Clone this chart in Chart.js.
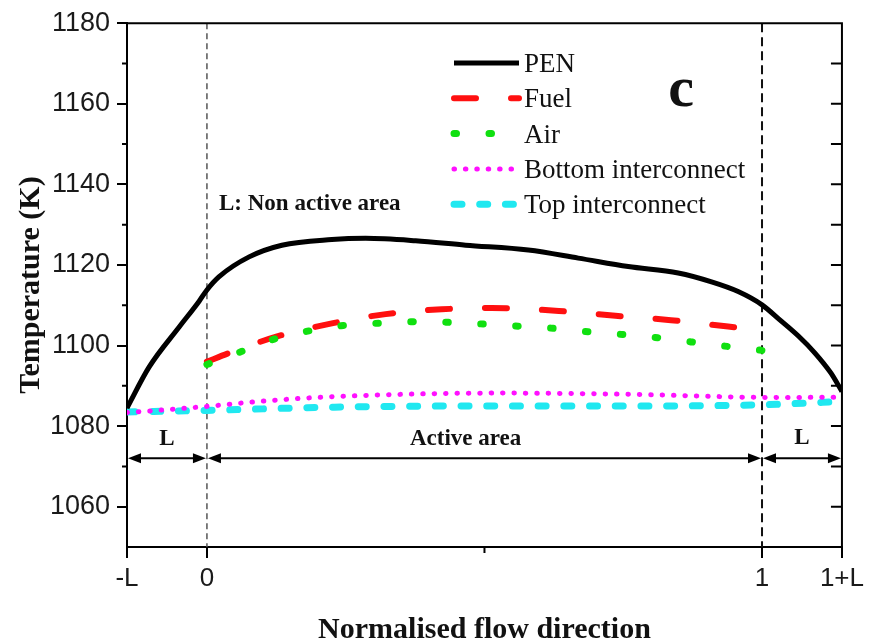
<!DOCTYPE html>
<html>
<head>
<meta charset="utf-8">
<script src="https://cdn.jsdelivr.net/npm/chart.js@4.4.1/dist/chart.umd.min.js"></script>
<style>
  html, body { margin: 0; padding: 0; background: #fff; }
  #wrap { width: 869px; height: 642px; }
</style>
</head>
<body>
<div id="wrap"><canvas id="chart" width="869" height="642"></canvas></div>
<script>
// Non active length on the normalised axis
const L = 0.144;

// tick labels
const xTickValues = [-L, 0, 1, 1 + L];
const xTickLabels = ['-L', '0', '1', '1+L'];
const xMinorTicks = [0.5];
const yTickValues = [1060, 1080, 1100, 1120, 1140, 1160, 1180];
const yMinorTicks = [1070, 1090, 1110, 1130, 1150, 1170];
const rightTicks = [1060, 1070, 1080, 1090, 1100, 1110, 1120, 1130, 1140, 1150, 1160, 1170];

// PEN
const penX = [-0.144, -0.104, -0.05, -0.014, 0, 0.022, 0.076, 0.135, 0.225, 0.286, 0.376, 0.466, 0.579, 0.669, 0.759, 0.849, 0.909, 0.957, 1.0, 1.031, 1.066, 1.095, 1.124, 1.144];
const penT = [1084.5, 1094.7, 1104.6, 1111.0, 1113.8, 1117.1, 1122.0, 1124.9, 1126.3, 1126.6, 1126.0, 1124.9, 1123.7, 1121.7, 1119.6, 1118.0, 1115.8, 1113.4, 1110.1, 1106.5, 1102.3, 1098.2, 1093.2, 1088.6];

// Fuel
const fuelX = [0, 0.041, 0.125, 0.225, 0.322, 0.423, 0.513, 0.634, 0.736, 0.836, 0.939, 1.0];
const fuelT = [1096.0, 1098.2, 1102.2, 1105.5, 1107.8, 1109.0, 1109.3, 1108.6, 1107.4, 1106.3, 1104.7, 1103.8];

// Air
const airX = [0, 0.062, 0.121, 0.179, 0.241, 0.304, 0.364, 0.427, 0.49, 0.549, 0.612, 0.673, 0.733, 0.795, 0.855, 0.918, 0.981, 1.0];
const airT = [1095.3, 1098.5, 1101.6, 1103.5, 1104.9, 1105.5, 1105.9, 1105.8, 1105.4, 1104.9, 1104.4, 1103.6, 1102.9, 1102.2, 1101.2, 1100.1, 1099.1, 1098.8];

// Bottom interconnect
const botX = [-0.144, -0.12, 0, 0.1, 0.226, 0.525, 0.76, 1.03, 1.144];
const botT = [1083.4, 1083.6, 1084.9, 1086.2, 1087.3, 1088.2, 1087.9, 1087.1, 1087.2];

// Top interconnect
const topX = [-0.144, 0, 0.226, 0.525, 0.81, 1.0, 1.144];
const topT = [1083.5, 1083.9, 1084.7, 1085.0, 1085.0, 1085.3, 1086.1];

// arrows of the zones
const arrowT = 1072;
const arrowSpans = [[-L, 0], [0, 1], [1, 1 + L]];

const SERIF = "'Liberation Serif', 'Times New Roman', serif";
const SANS = "'Liberation Sans', Arial, sans-serif";

function pts(xs, ys) {
    return xs.map((x, i) => ({ x: x, y: ys[i] }));
}

function arrowHead(ctx, x, y, dir) {
    ctx.beginPath();
    ctx.moveTo(x, y);
    ctx.lineTo(x - dir * 13, y - 5);
    ctx.lineTo(x - dir * 13, y + 5);
    ctx.closePath();
    ctx.fill();
}

// annotations, frame and legend
const decoPlugin = {
    id: 'deco',
    beforeDatasetsDraw(chart) {
        const ctx = chart.ctx;
        const a = chart.chartArea;
        const xs = chart.scales.x;
        ctx.save();
        // zone borders
        let px = xs.getPixelForValue(0);
        ctx.strokeStyle = '#555';
        ctx.lineWidth = 1.5;
        ctx.setLineDash([6, 4]);
        ctx.beginPath();
        ctx.moveTo(px, a.top);
        ctx.lineTo(px, a.bottom);
        ctx.stroke();
        px = xs.getPixelForValue(1);
        ctx.strokeStyle = '#111';
        ctx.lineWidth = 2;
        ctx.setLineDash([9, 5]);
        ctx.beginPath();
        ctx.moveTo(px, a.top);
        ctx.lineTo(px, a.bottom);
        ctx.stroke();
        ctx.restore();
    },
    afterDraw(chart) {
        const ctx = chart.ctx;
        const a = chart.chartArea;
        const xs = chart.scales.x;
        const ys = chart.scales.y;
        ctx.save();

        // frame
        ctx.strokeStyle = '#000';
        ctx.lineWidth = 2;
        ctx.setLineDash([]);
        ctx.beginPath();
        ctx.moveTo(a.left, a.top);
        ctx.lineTo(a.right, a.top);
        ctx.lineTo(a.right, a.bottom);
        ctx.stroke();

        // minor ticks
        ctx.beginPath();
        yMinorTicks.forEach(v => {
            const y = ys.getPixelForValue(v);
            ctx.moveTo(a.left - 5, y);
            ctx.lineTo(a.left, y);
        });
        xMinorTicks.forEach(v => {
            const x = xs.getPixelForValue(v);
            ctx.moveTo(x, a.bottom);
            ctx.lineTo(x, a.bottom + 6);
        });
        rightTicks.forEach(v => {
            const y = ys.getPixelForValue(v);
            ctx.moveTo(a.right, y);
            ctx.lineTo(a.right - 11, y);
        });
        ctx.stroke();

        // double arrows
        const ay = ys.getPixelForValue(arrowT);
        ctx.fillStyle = '#000';
        ctx.lineWidth = 2;
        arrowSpans.forEach(s => {
            const x1 = xs.getPixelForValue(s[0]) + 1;
            const x2 = xs.getPixelForValue(s[1]) - 1;
            ctx.beginPath();
            ctx.moveTo(x1 + 6, ay);
            ctx.lineTo(x2 - 6, ay);
            ctx.stroke();
            arrowHead(ctx, x1, ay, -1);
            arrowHead(ctx, x2, ay, 1);
        });

        // texts
        ctx.fillStyle = '#111';
        ctx.textBaseline = 'alphabetic';
        ctx.font = 'bold 23px ' + SERIF;
        ctx.textAlign = 'center';
        ctx.fillText('L', xs.getPixelForValue(-L / 2), 445);
        ctx.fillText('L', xs.getPixelForValue(1 + L / 2), 444);
        ctx.fillText('Active area', xs.getPixelForValue(0.466), 445);
        ctx.textAlign = 'left';
        ctx.fillText('L: Non active area', 219, 210);

        ctx.font = 'bold 58px ' + SERIF;
        ctx.textAlign = 'center';
        ctx.fillText('c', 681, 106);

        // axis titles
        ctx.font = 'bold 30px ' + SERIF;
        ctx.fillText('Normalised flow direction', (a.left + a.right) / 2, 638);
        ctx.save();
        ctx.translate(39, (a.top + a.bottom) / 2);
        ctx.rotate(-Math.PI / 2);
        ctx.textBaseline = 'alphabetic';
        ctx.fillText('Temperature (K)', 0, 0);
        ctx.restore();

        // legend
        ctx.font = '27px ' + SERIF;
        ctx.textAlign = 'left';
        ctx.textBaseline = 'middle';
        chart.data.datasets.forEach((ds, i) => {
            const y = 63 + i * 35.3;
            ctx.save();
            ctx.strokeStyle = ds.borderColor;
            ctx.lineWidth = ds.borderWidth;
            ctx.lineCap = ds.borderCapStyle || 'butt';
            ctx.setLineDash(ds.borderDash || []);
            ctx.beginPath();
            ctx.moveTo(454, y);
            ctx.lineTo(519, y);
            ctx.stroke();
            ctx.restore();
            ctx.fillStyle = '#111';
            ctx.fillText(ds.label, 524, y + 2);
        });

        ctx.restore();
    }
};

function line(label, xs, ys, color, width, dash, cap, order) {
    return {
        label: label,
        data: pts(xs, ys),
        borderColor: color,
        borderWidth: width,
        borderDash: dash,
        borderCapStyle: cap,
        pointRadius: 0,
        fill: false,
        cubicInterpolationMode: 'monotone',
        order: order
    };
}

new Chart(document.getElementById('chart'), {
    type: 'line',
    data: {
        datasets: [
            line('PEN', penX, penT, '#000000', 5, [], 'butt', 1),
            line('Fuel', fuelX, fuelT, '#ff1010', 6, [22, 35], 'round', 3),
            line('Air', airX, airT, '#10e010', 7, [2.5, 32.5], 'round', 2),
            line('Bottom interconnect', botX, botT, '#ff10ff', 5, [0.5, 10.9], 'round', 4),
            line('Top interconnect', topX, topT, '#20e8f0', 7, [8, 17.7], 'round', 5)
        ]
    },
    options: {
        responsive: false,
        animation: false,
        events: [],
        layout: { padding: { top: 22, right: 24, left: 0, bottom: 0 } },
        plugins: {
            legend: { display: false },
            tooltip: { enabled: false }
        },
        scales: {
            x: {
                type: 'linear',
                min: -L,
                max: 1 + L,
                afterBuildTicks: (scale) => {
                    scale.ticks = xTickValues.map(v => ({ value: v }));
                },
                afterFit: (scale) => { scale.height = 95; },
                ticks: {
                    autoSkip: false,
                    maxRotation: 0,
                    padding: 5,
                    color: '#1a1a1a',
                    font: { family: SANS, size: 26 },
                    callback: (v) => {
                        const i = xTickValues.findIndex(t => Math.abs(t - v) < 1e-6);
                        return i >= 0 ? xTickLabels[i] : '';
                    }
                },
                grid: {
                    display: true,
                    drawOnChartArea: false,
                    drawTicks: true,
                    tickLength: 11,
                    lineWidth: 2,
                    color: '#000'
                },
                border: { display: true, color: '#000', width: 2 }
            },
            y: {
                type: 'linear',
                min: 1050,
                max: 1180,
                afterBuildTicks: (scale) => {
                    scale.ticks = yTickValues.map(v => ({ value: v }));
                },
                afterFit: (scale) => { scale.width = 127; },
                ticks: {
                    padding: 7,
                    color: '#1a1a1a',
                    font: { family: SANS, size: 27 },
                    callback: (v) => String(v)
                },
                grid: {
                    display: true,
                    drawOnChartArea: false,
                    drawTicks: true,
                    tickLength: 10,
                    lineWidth: 2,
                    color: '#000'
                },
                border: { display: true, color: '#000', width: 2 }
            }
        }
    },
    plugins: [decoPlugin]
});
</script>
</body>
</html>
